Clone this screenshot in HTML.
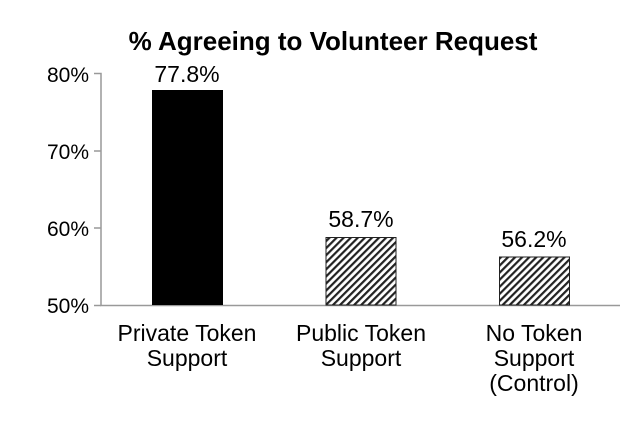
<!DOCTYPE html>
<html><head><style>body{margin:0;background:#fff}</style></head><body>
<svg width="634" height="417" xmlns="http://www.w3.org/2000/svg" font-family="Liberation Sans, Arial, sans-serif">
<defs><pattern id="h" width="5" height="5" patternUnits="userSpaceOnUse" patternTransform="rotate(45)"><rect width="5" height="5" fill="#fff"/><rect width="2.2" height="5" fill="#222"/></pattern></defs>
<text x="333" y="50" text-anchor="middle" font-size="26" font-weight="bold">% Agreeing to Volunteer Request</text>
<g stroke="#999" stroke-width="1.5" fill="none">
<path d="M94 73.5H101V305.5H620"/>
<path d="M94 151H101M94 228H101M94 305.5H101"/>
</g>
<g font-size="21" text-anchor="end" fill="#000">
<text x="89" y="82">80%</text><text x="89" y="159">70%</text><text x="89" y="236">60%</text><text x="89" y="313">50%</text>
</g>
<rect x="152" y="90" width="71" height="215" fill="#000"/>
<rect x="326" y="237.5" width="70" height="67.5" fill="url(#h)" stroke="#222"/>
<rect x="499.5" y="257" width="70" height="48" fill="url(#h)" stroke="#222"/>
<g font-size="23" text-anchor="middle">
<text x="187" y="82">77.8%</text><text x="361" y="227">58.7%</text><text x="534" y="247">56.2%</text>
<text x="187" y="341">Private Token</text><text x="187" y="366">Support</text>
<text x="361" y="341">Public Token</text><text x="361" y="366">Support</text>
<text x="534" y="341">No Token</text><text x="534" y="366">Support</text><text x="534" y="391">(Control)</text>
</g>
</svg>
</body></html>
